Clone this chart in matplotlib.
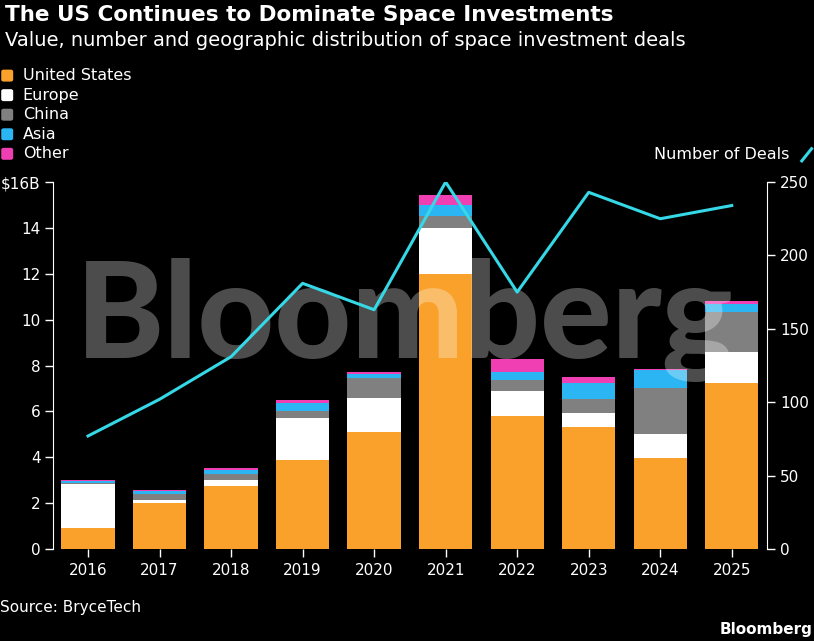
import numpy as np
import matplotlib
matplotlib.use("Agg")
import matplotlib.pyplot as plt
from matplotlib.patches import FancyBboxPatch

# data ($B per region, number of deals)
years = ["2016", "2017", "2018", "2019", "2020", "2021", "2022", "2023", "2024", "2025"]
us = [0.9, 2.0, 2.75, 3.9, 5.1, 12.0, 5.8, 5.3, 3.95, 7.25]
europe = [1.93, 0.13, 0.25, 1.8, 1.5, 2.0, 1.07, 0.65, 1.08, 1.33]
china = [0.05, 0.26, 0.29, 0.31, 0.87, 0.52, 0.5, 0.57, 2.0, 1.74]
asia = [0.08, 0.15, 0.14, 0.37, 0.14, 0.5, 0.34, 0.74, 0.76, 0.35]
other = [0.04, 0.04, 0.09, 0.12, 0.1, 0.4, 0.56, 0.22, 0.04, 0.15]
deals = [77, 102, 131, 181, 163, 250, 175, 243, 225, 234]

series = [("United States", us, "#f9a12b"),
          ("Europe", europe, "#ffffff"),
          ("China", china, "#808080"),
          ("Asia", asia, "#2bb5f2"),
          ("Other", other, "#f03fb3")]
line_color = "#35d8e6"

plt.rcParams["font.family"] = ["DejaVu Sans"]
fig = plt.figure(figsize=(8.14, 6.41), dpi=100, facecolor="black")
ax = fig.add_axes([0.0651, 0.1435, 0.8769, 0.5725])
ax.set_facecolor("black")
x = np.arange(len(years))

bottom = np.zeros(len(years))
for name, vals, col in series:
    ax.bar(x, vals, bottom=bottom, width=0.745, color=col, zorder=2)
    bottom += np.array(vals)

ax.set_xlim(-0.49, len(years) - 0.51)
ax.set_ylim(0, 16)
ax.set_yticks(range(0, 17, 2))
ax.set_yticklabels([str(v) for v in range(0, 16, 2)] + ["$16B"])
ax.set_xticks(x)
ax.set_xticklabels(years)
for s in ["top", "bottom", "right"]:
    ax.spines[s].set_visible(False)
ax.spines["left"].set_color("white")
ax.tick_params(colors="white", labelsize=11, length=6, width=1)
ax.tick_params(axis="y", pad=3)
ax.tick_params(axis="x", pad=4)

ax2 = ax.twinx()
ax2.set_ylim(0, 250)
ax2.set_yticks(range(0, 251, 50))
ax2.plot(x, deals, color=line_color, lw=2.2, zorder=5)
for s in ["top", "bottom", "left"]:
    ax2.spines[s].set_visible(False)
ax2.spines["right"].set_color("white")
ax2.tick_params(colors="white", labelsize=11, length=6, width=1)

# watermark
ax2.text(0.493, 0.625, "Bloomberg", transform=ax2.transAxes, ha="center", va="center",
         fontsize=96, fontweight="black", family=["Lato", "Liberation Sans"], color="white",
         alpha=0.3, zorder=3)

fig.text(0.006, 0.977, "The US Continues to Dominate Space Investments", color="white",
         fontsize=15.5, fontweight="bold", va="center")
fig.text(0.006, 0.937, "Value, number and geographic distribution of space investment deals",
         color="white", fontsize=14.0, va="center")

for i, (name, vals, col) in enumerate(series):
    yy = 0.882 - i * 0.0305
    fig.patches.append(FancyBboxPatch((0.0015, yy - 0.0093), 0.0147, 0.0187,
                                      boxstyle="round,pad=0,rounding_size=0.003",
                                      transform=fig.transFigure, facecolor=col, edgecolor="none"))
    fig.text(0.028, yy, name, color="white", fontsize=11.5, va="center")

fig.text(0.97, 0.759, "Number of Deals", color="white", fontsize=11.5, va="center", ha="right")
fig.lines.append(plt.Line2D([0.985, 0.997], [0.749, 0.768], transform=fig.transFigure,
                            color=line_color, lw=2.2))

fig.text(0.0, 0.053, "Source: BryceTech", color="white", fontsize=11, va="center")
fig.text(0.998, 0.018, "Bloomberg", color="white", fontsize=11, fontweight="bold",
         va="center", ha="right")

fig.savefig("out.png", dpi=100, facecolor="black")
